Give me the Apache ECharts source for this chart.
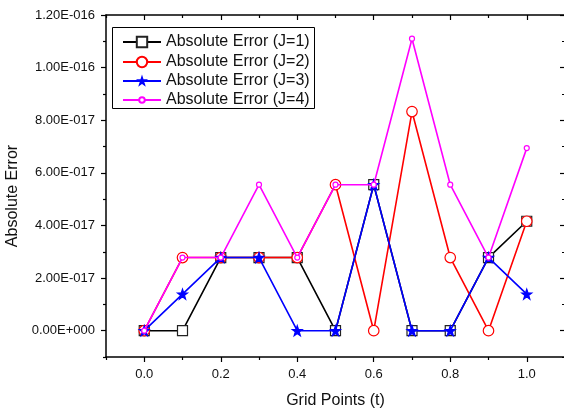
<!DOCTYPE html>
<html>
<head>
<meta charset="utf-8">
<script src="https://cdn.jsdelivr.net/npm/echarts@6/dist/echarts.min.js"></script>
<style>html,body{margin:0;padding:0;background:#fff;}#c{width:564px;height:412px;}</style>
</head>
<body>
<div id="c"></div>
<script>
const gridPoints = [0.0, 0.1, 0.2, 0.3, 0.4, 0.5, 0.6, 0.7, 0.8, 0.9, 1.0];
const errJ1 = [0, 0, 2.78e-17, 2.78e-17, 2.78e-17, 0, 5.55e-17, 0, 0, 2.78e-17, 4.16e-17];
const errJ2 = [0, 2.78e-17, 2.78e-17, 2.78e-17, 2.78e-17, 5.55e-17, 0, 8.33e-17, 2.78e-17, 0, 4.16e-17];
const errJ3 = [0, 1.39e-17, 2.78e-17, 2.78e-17, 0, 0, 5.55e-17, 0, 0, 2.78e-17, 1.39e-17];
const errJ4 = [0, 2.78e-17, 2.78e-17, 5.55e-17, 2.78e-17, 5.55e-17, 5.55e-17, 1.11e-16, 5.55e-17, 2.78e-17, 6.94e-17];
const seriesNames = ['Absolute Error (J=1)', 'Absolute Error (J=2)', 'Absolute Error (J=3)', 'Absolute Error (J=4)'];
const xMajorTicks = [0.0, 0.2, 0.4, 0.6, 0.8, 1.0];
const xMinorTicks = [-0.1, 0.1, 0.3, 0.5, 0.7, 0.9, 1.1];
const yMajorTicks = [0, 2e-17, 4e-17, 6e-17, 8e-17, 1e-16, 1.2e-16];
const yMinorTicks = [-1e-17, 1e-17, 3e-17, 5e-17, 7e-17, 9e-17, 1.1e-16];

function sci(v) {
  if (Math.abs(v) < 1e-30) return '0.00E+000';
  const s = v.toExponential(2);
  const parts = s.split('e');
  const sign = parts[1][0] === '-' ? '-' : '+';
  const ex = Math.abs(parseInt(parts[1], 10)).toString().padStart(3, '0');
  return parts[0] + 'E' + sign + ex;
}
const toPairs = arr => gridPoints.map((x, i) => [x, arr[i]]);

const FONT = 'Liberation Sans, Arial, sans-serif';
const lineC = '#000';
function xAx(pos, ticks, len, inside, showLine, showLabel) {
  return {
    type: 'value', position: pos, min: -0.1, max: 1.1,
    axisLine: { show: showLine, onZero: false, lineStyle: { color: lineC, width: 1.5 } },
    axisTick: { show: true, inside: inside, length: len, customValues: ticks, lineStyle: { color: lineC, width: 1.2 } },
    axisLabel: showLabel ? { show: true, customValues: ticks, formatter: v => v.toFixed(1), color: '#111', fontFamily: FONT, fontSize: 13, margin: 11 } : { show: false },
    splitLine: { show: false }
  };
}
function yAx(pos, ticks, len, inside, showLine, showLabel) {
  return {
    type: 'value', position: pos, min: -1e-17, max: 1.2e-16,
    axisLine: { show: showLine, onZero: false, lineStyle: { color: lineC, width: 1.5 } },
    axisTick: { show: true, inside: inside, length: len, customValues: ticks, lineStyle: { color: lineC, width: 1.2 } },
    axisLabel: showLabel ? { show: true, customValues: ticks, formatter: v => sci(v), color: '#111', fontFamily: FONT, fontSize: 13, margin: 11 } : { show: false },
    splitLine: { show: false }
  };
}
const xAxes = [
  xAx('bottom', xMajorTicks, 5, false, true, true),
  xAx('bottom', xMinorTicks, 3, false, false, false),
  xAx('top', xMajorTicks, 5, true, true, false),
  xAx('top', xMinorTicks, 3, true, false, false)
];
Object.assign(xAxes[0], { name: 'Grid Points (t)', nameLocation: 'middle', nameGap: 36, nameTextStyle: { fontFamily: FONT, fontSize: 16, color: '#111' } });
const yAxes = [
  yAx('left', yMajorTicks, 5, false, true, true),
  yAx('left', yMinorTicks, 3, false, false, false),
  yAx('right', yMajorTicks, 5, true, true, false),
  yAx('right', yMinorTicks, 3, true, false, false)
];
Object.assign(yAxes[0], { name: 'Absolute Error', nameLocation: 'middle', nameGap: 81, nameTextStyle: { fontFamily: FONT, fontSize: 16, color: '#111', padding: [0, 0, 0, -20] } });

const styles = [
  { color: '#000000', symbol: 'rect', size: 10, fill: '#ffffff', border: '#222', legendH: 13 },
  { color: '#ff0000', symbol: 'circle', size: 10.5, fill: '#ffffff', border: '#ff0000', legendH: 13 },
  { color: '#0000ff', symbol: 'path://M0,-10 L2.35,-3.24 L9.51,-3.09 L3.8,1.24 L5.88,8.09 L0,4 L-5.88,8.09 L-3.8,1.24 L-9.51,-3.09 L-2.35,-3.24 Z', size: 10, fill: '#0000ff', border: '#0000ff', legendH: 8 },
  { color: '#ff00ff', symbol: 'circle', size: 5, fill: '#ffffff', border: '#ff00ff', legendH: 7 }
];
const data = [errJ1, errJ2, errJ3, errJ4];
const series = data.map((arr, i) => ({
  name: seriesNames[i], type: 'line', xAxisIndex: 0, yAxisIndex: 0,
  data: toPairs(arr), symbol: styles[i].symbol, symbolSize: styles[i].size, showAllSymbol: true,
  lineStyle: { color: styles[i].color, width: 1.6 },
  itemStyle: { color: styles[i].fill, borderColor: styles[i].border, borderWidth: 1.2 },
  animation: false, z: 2 + i
}));

const legendRowCenters = [41, 61, 80, 99];
const legends = seriesNames.map((n, i) => ({
  orient: 'vertical', left: 122, top: legendRowCenters[i] - 8,
  padding: 0, itemWidth: 38, itemHeight: styles[i].legendH, itemGap: 0,
  textStyle: { fontFamily: FONT, fontSize: 16, color: '#111', lineHeight: 18 },
  data: [n], selectedMode: false
}));

const chart = echarts.init(document.getElementById('c'), null, { renderer: 'canvas' });
chart.setOption({
  animation: false,
  backgroundColor: '#fff',
  grid: { left: 106, right: -1, top: 15, bottom: 55, containLabel: false, outerBoundsMode: 'none' },
  xAxis: xAxes,
  yAxis: yAxes,
  legend: legends,
  graphic: [{
    type: 'rect', x: 112.5, y: 27.5, z: 100,
    shape: { x: 0, y: 0, width: 202, height: 81 },
    style: { fill: 'none', stroke: '#000', lineWidth: 1 }
  }],
  series: series
});
</script>
</body>
</html>
